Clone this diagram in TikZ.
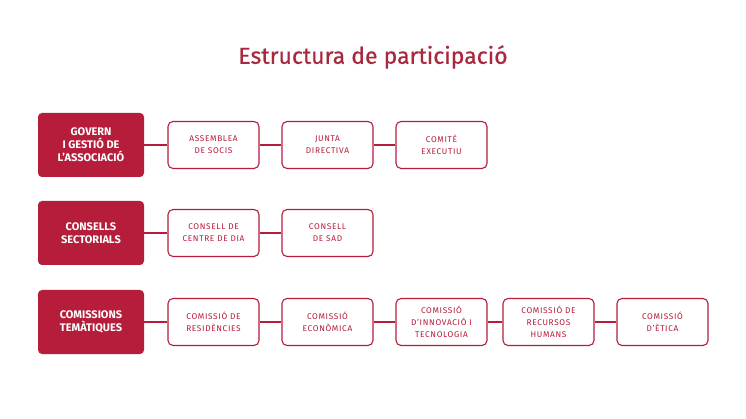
\documentclass[tikz,border=0pt]{standalone}
\usepackage{fontspec}
\setmainfont{Fira Sans}
\usetikzlibrary{positioning}
\definecolor{crimson}{HTML}{B51D3A}
\definecolor{titlered}{HTML}{A8293E}
\tikzset{
  headbox/.style={fill=crimson, text=white, rounded corners=4pt, minimum width=106pt,
    minimum height=64pt, align=center, font=\bfseries\fontsize{11}{13}\selectfont},
  itembox/.style={draw=crimson, line width=1.1pt, fill=white, text=crimson, rounded corners=5pt,
    minimum width=91pt, minimum height=47pt, align=center,
    font=\fontsize{8.3}{12}\selectfont\addfontfeatures{LetterSpace=8}},
  link/.style={draw=crimson, line width=1.1pt}
}
\begin{document}
\begin{tikzpicture}[x=1pt,y=1pt]
    \useasboundingbox (0,0) rectangle (746,-419);
    % Titel
    \node[text=titlered, font=\fontsize{23}{26}\selectfont\addfontfeatures{FakeBold=0.6}] (title) at (373,-57) {Estructura de participació};
    % Govern
    \node[headbox] (gov) at (91,-145) {GOVERN\\I GESTIÓ DE\\L’ASSOCIACIÓ};
    \node[itembox] (asse) at (213.5,-145) {ASSEMBLEA\\DE SOCIS};
    \node[itembox] (junta) at (327.5,-145) {JUNTA\\DIRECTIVA};
    \node[itembox] (comite) at (441.5,-145) {COMITÈ\\EXECUTIU};
    % Consells
    \node[headbox] (cons) at (91,-233) {CONSELLS\\SECTORIALS};
    \node[itembox] (dia) at (213.5,-233) {CONSELL DE\\CENTRE DE DIA};
    \node[itembox] (sad) at (327.5,-233) {CONSELL\\DE SAD};
    % Comissions
    \node[headbox] (com) at (91,-322) {COMISSIONS\\TEMÀTIQUES};
    \node[itembox] (resi) at (213.5,-322) {COMISSIÓ DE\\RESIDÈNCIES};
    \node[itembox] (econ) at (327.5,-322) {COMISSIÓ\\ECONÒMICA};
    \node[itembox] (innov) at (441.5,-322) {COMISSIÓ\\D’INNOVACIÓ I\\TECNOLOGIA};
    \node[itembox] (recur) at (548.5,-322) {COMISSIÓ DE\\RECURSOS\\HUMANS};
    \node[itembox] (etica) at (662.5,-322) {COMISSIÓ\\D’ÈTICA};
    % Linies
    \path[link]
    (gov) -- (asse) (asse) -- (junta) (junta) -- (comite)
    (cons) -- (dia) (dia) -- (sad)
    (com) -- (resi) (resi) -- (econ) (econ) -- (innov) (innov) -- (recur) (recur) -- (etica)
    ;
\end{tikzpicture}
\end{document}
